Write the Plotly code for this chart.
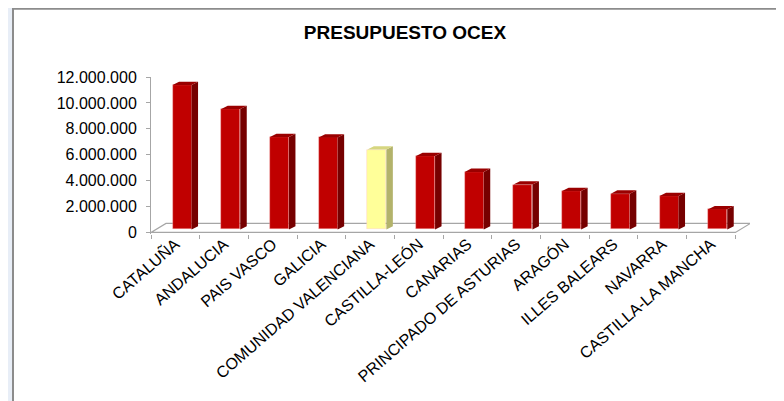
import plotly.graph_objects as go

# ---------------- data ----------------
categories = [
    "CATALUÑA", "ANDALUCIA", "PAIS VASCO", "GALICIA", "COMUNIDAD VALENCIANA",
    "CASTILLA-LEÓN", "CANARIAS", "PRINCIPADO DE ASTURIAS", "ARAGÓN",
    "ILLES BALEARS", "NAVARRA", "CASTILLA-LA MANCHA",
]
values = [
    11150000, 9290000, 7140000, 7100000, 6170000,
    5670000, 4440000, 3460000, 2960000,
    2760000, 2580000, 1550000,
]
highlight = "COMUNIDAD VALENCIANA"
y_ticks = [0, 2000000, 4000000, 6000000, 8000000, 10000000, 12000000]
title_text = "PRESUPUESTO OCEX"

# ---------------- style / geometry ----------------
W, H = 784, 401
OFF = 8                                     # page body margin
PLOT_L, PLOT_R = 151 - OFF, 750 - OFF
PLOT_T = 77 - OFF
X_RANGE = [-0.5, 11.8]
Y_RANGE = [-120000, 12000000]
PX_PER_M = 155 / 12.0                     # pixels per million
PLOT_B = PLOT_T + (Y_RANGE[1] - Y_RANGE[0]) / 1e6 * PX_PER_M
PX_PER_CAT = (PLOT_R - PLOT_L) / (X_RANGE[1] - X_RANGE[0])

def px_x(p):
    return p / PX_PER_CAT

def px_y(p):
    return p / PX_PER_M * 1e6

RED, RED_SIDE, RED_TOP = "#C00000", "#760000", "#9A0000"
YEL, YEL_SIDE, YEL_TOP = "#FFFF99", "#B3B36B", "#D6D680"
AXIS_COL = "#A6A6A6"
FONT = "Liberation Sans, Arial, sans-serif"

BAR_W = px_x(19)
BAR_SHIFT = px_x(6.7)
BAR_BASE = px_y(3)
BAR_DX, BAR_DY = px_x(6.5), px_y(3.3)
FLOOR_DX, FLOOR_DY = px_x(15), px_y(9)

fig = go.Figure()

x_idx = list(range(len(categories)))
is_hl = [c == highlight for c in categories]

fig.add_trace(go.Bar(
    x=[i + BAR_SHIFT for i in x_idx], y=values, base=BAR_BASE, width=BAR_W,
    marker=dict(color=[YEL if h else RED for h in is_hl],
                line=dict(width=0.6, color="rgba(255,190,190,0.6)")),
    hoverinfo="skip", showlegend=False,
))

for i, v, h in zip(x_idx, values, is_hl):
    xl = i + BAR_SHIFT - BAR_W / 2
    xr = i + BAR_SHIFT + BAR_W / 2
    b = BAR_BASE
    side_col = YEL_SIDE if h else RED_SIDE
    top_col = YEL_TOP if h else RED_TOP
    fig.add_trace(go.Scatter(
        x=[xr, xr + BAR_DX, xr + BAR_DX, xr, xr],
        y=[b, b + BAR_DY, b + v + BAR_DY, b + v, b],
        fill="toself", fillcolor=side_col, mode="lines",
        line=dict(width=0, color=side_col), hoverinfo="skip", showlegend=False,
    ))
    fig.add_trace(go.Scatter(
        x=[xl, xl + BAR_DX, xr + BAR_DX, xr, xl],
        y=[b + v, b + v + BAR_DY, b + v + BAR_DY, b + v, b + v],
        fill="toself", fillcolor=top_col, mode="lines",
        line=dict(width=0, color=top_col), hoverinfo="skip", showlegend=False,
    ))

# invisible trace to hold the boundary-tick axis
fig.add_trace(go.Scatter(x=[], y=[], xaxis="x2", yaxis="y", showlegend=False))

n = len(categories)
x0f, x1f = -0.5, n - 0.5
floor_path = (f"M {x0f},0 L {x1f},0 L {x1f + FLOOR_DX},{FLOOR_DY} "
              f"L {x0f + FLOOR_DX},{FLOOR_DY} Z")

# white panel with border on light-blue page
panel_x0 = (13 - OFF - PLOT_L) / (PLOT_R - PLOT_L)
panel_y1 = (PLOT_B - (8 - OFF) - 1) / (PLOT_B - PLOT_T)

fig.update_layout(
    width=W, height=H,
    margin=dict(l=PLOT_L, r=W - PLOT_R, t=PLOT_T, b=H - PLOT_B, pad=0),
    paper_bgcolor="#E8EEF7",
    plot_bgcolor="rgba(0,0,0,0)",
    showlegend=False,
    bargap=0,
    title=dict(
        text=title_text, x=(405 - OFF) / W, xref="container", xanchor="center",
        y=1 - (32 - OFF) / H, yref="container", yanchor="middle",
        font=dict(family=FONT, size=19, color="#000000", weight="bold"),
    ),
    xaxis=dict(
        range=X_RANGE, tickmode="array", tickvals=x_idx, ticktext=categories,
        tickangle=-41, ticks="", showline=False, showgrid=False, zeroline=False,
        tickfont=dict(family=FONT, size=16, color="#000000"),
        ticklabelstandoff=-3,
    ),
    xaxis2=dict(
        range=X_RANGE, overlaying="x", anchor="y", side="bottom",
        tickmode="array", tickvals=[k - 0.5 for k in range(n + 1)],
        ticks="outside", ticklen=4, tickcolor=AXIS_COL, tickwidth=1,
        showticklabels=False, showline=False, showgrid=False, zeroline=False,
    ),
    yaxis=dict(
        range=Y_RANGE, tickmode="array", tickvals=y_ticks,
        tickformat=",.0f", ticks="outside", ticklen=4, tickcolor=AXIS_COL,
        showline=True, linecolor=AXIS_COL, linewidth=1,
        showgrid=False, zeroline=False,
        tickfont=dict(family=FONT, size=16, color="#000000"),
        ticklabelstandoff=6,
    ),
    separators=",.",
    shapes=[
        dict(type="rect", xref="paper", yref="paper",
             x0=panel_x0, x1=1.5, y0=-2.0, y1=panel_y1,
             fillcolor="#FFFFFF", line=dict(color="#8C8C8C", width=2),
             layer="below"),
        dict(type="path", xref="x", yref="y", path=floor_path,
             line=dict(color=AXIS_COL, width=1.2), fillcolor="rgba(0,0,0,0)",
             layer="below"),
    ],
)

fig.write_html("out.html")
